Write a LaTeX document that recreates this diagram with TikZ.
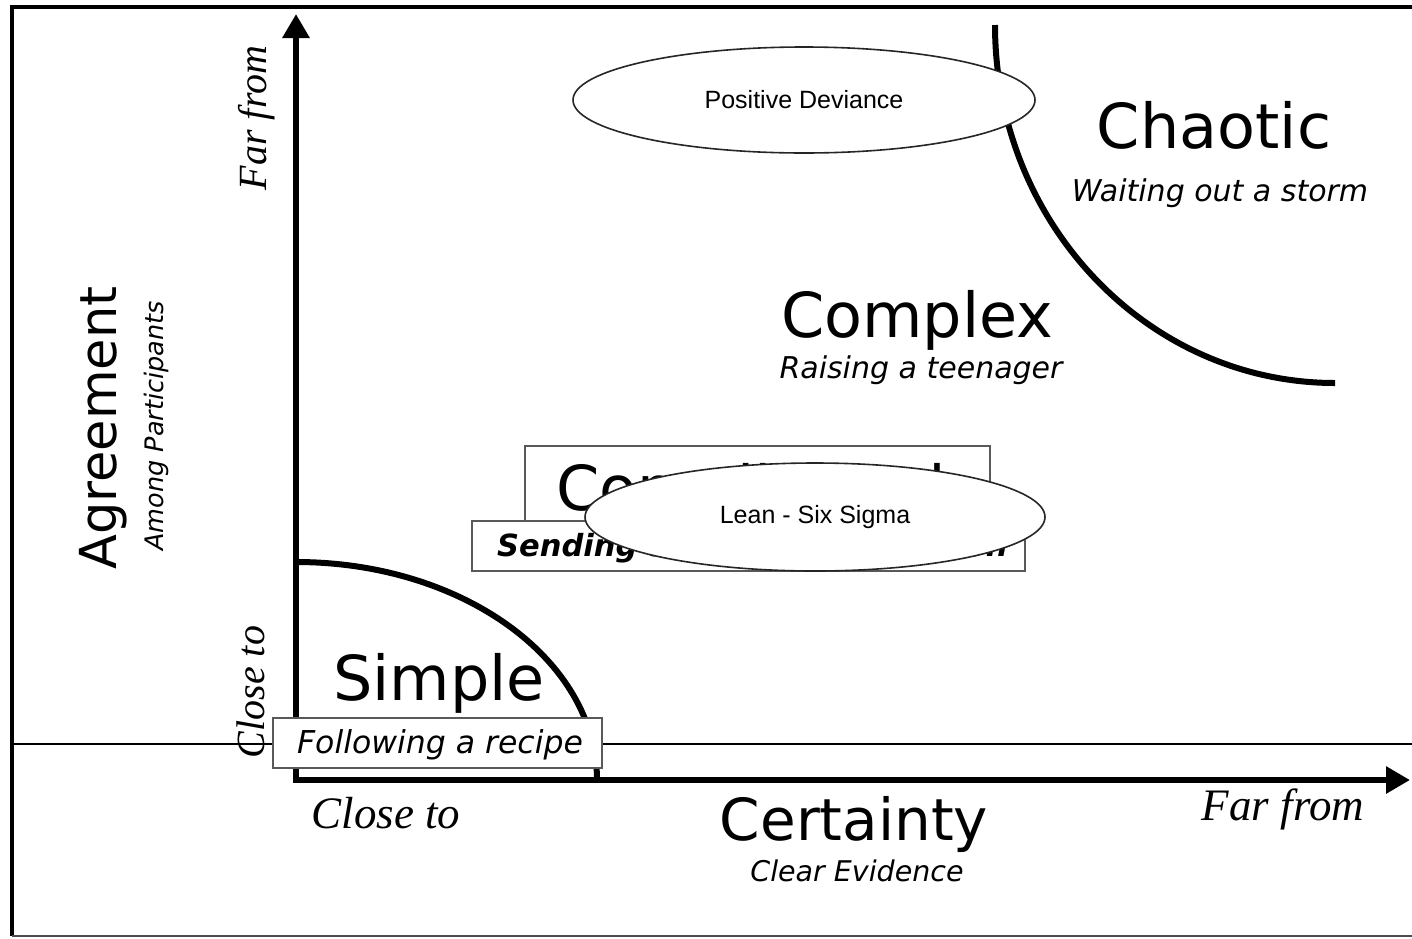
\documentclass[tikz,border=0pt]{standalone}
\usepackage{fontspec}
\usetikzlibrary{shapes.geometric,arrows.meta}
\newfontfamily\comicf{DejaVu Sans}
\newfontfamily\serf{Liberation Serif}
\newfontfamily\arialf{Liberation Sans}
\begin{document}
\begin{tikzpicture}[x=1pt,y=-1pt,
  axisline/.style={line width=6pt, line join=miter,
    {Triangle[width=26pt,length=24pt]}-{Triangle[width=26pt,length=24pt]}},
  curve/.style={line width=6pt},
  cbox/.style={draw=black!65, line width=1.8pt, fill=white, inner sep=0pt},
  oval/.style={ellipse, draw=black!85, line width=1.6pt, fill=white, inner sep=0pt,
    font=\arialf\fontsize{25}{27}\selectfont},
  big/.style={font=\comicf\fontsize{62}{62}\selectfont, inner sep=0pt},
  sub/.style={font=\comicf\itshape\fontsize{30}{32}\selectfont, inner sep=0pt},
  ser/.style={font=\serf\itshape\fontsize{45}{47}\selectfont, inner sep=0pt},
  serv/.style={font=\serf\itshape\fontsize{40}{42}\selectfont, inner sep=0pt, rotate=90}
]
\useasboundingbox (0,0) rectangle (1412,938);
% frame
\draw[line width=4pt] (1412,7) -- (12,7) -- (12,936);
\draw[line width=2pt, black!70] (12,936) -- (1412,936);
% thin horizontal line
\coordinate (hl) at (12,744);
\coordinate (hr) at (1412,744);
\draw[line width=1.5pt] (hl) -- (hr);
% axes
\coordinate (o) at (296,780);
\coordinate (ytip) at (296,14);
\coordinate (xtip) at (1410,780);
\draw[axisline] (ytip) -- (o) -- (xtip);
% simple boundary
\coordinate (s1) at (296,562);
\draw[curve] (s1) arc[start angle=-90, end angle=0, x radius=301, y radius=218];
% chaotic boundary
\coordinate (c1) at (995,25);
\draw[curve] (c1) arc[start angle=180, end angle=90, x radius=340, y radius=358];
% complicated boxes
\node[cbox, minimum width=465pt, minimum height=76pt] (cbox1) at (757.5,484) {};
\node[big, anchor=base west] (complicated) at (556,510) {Complicated};
\node[cbox, minimum width=553pt, minimum height=50pt] (cbox2) at (748.5,546) {};
\node[inner sep=0pt, font=\comicf\bfseries\itshape\fontsize{30.5}{32}\selectfont, anchor=base west] (sending) at (497,556) {Sending a rocket to the moon};
% ovals
\node[oval, minimum width=460pt, minimum height=108pt] (lean) at (815,517) {Lean - Six Sigma};
\node[oval, minimum width=462pt, minimum height=106pt] (pd) at (804,100) {Positive Deviance};
% simple
\node[big, anchor=base] (simple) at (439,700) {Simple};
\node[cbox, minimum width=329pt, minimum height=50pt] (fbox) at (437.5,743) {};
\node[sub, font=\comicf\itshape\fontsize{31.5}{33}\selectfont, anchor=base] (recipe) at (440,753) {Following a recipe};
% chaotic
\node[big, anchor=base] (chaotic) at (1214,148) {Chaotic};
\node[sub, anchor=base] (storm) at (1220,201) {Waiting out a storm};
% complex
\node[big, anchor=base] (complex) at (917,337) {Complex};
\node[sub, anchor=base] (teen) at (921,378) {Raising a teenager};
% x axis labels
\node[inner sep=0pt, font=\comicf\fontsize{58}{58}\selectfont, anchor=base] (certainty) at (854,840) {Certainty};
\node[inner sep=0pt, font=\comicf\itshape\fontsize{28.5}{30}\selectfont, anchor=base] (evidence) at (857,881) {Clear Evidence};
\node[ser, anchor=base] (xclose) at (386,828) {Close to};
\node[ser, anchor=base] (xfar) at (1283,820) {Far from};
% y axis labels
\node[serv, anchor=base] (yfar) at (266,118) {Far from};
\node[serv, anchor=base] (yclose) at (264,692) {Close to};
\node[inner sep=0pt, font=\comicf\fontsize{51}{51}\selectfont, rotate=90, anchor=base] (agree) at (116,428) {Agreement};
\node[inner sep=0pt, font=\comicf\itshape\fontsize{25.5}{27}\selectfont, rotate=90, anchor=base] (among) at (163,426) {Among Participants};
\end{tikzpicture}
\end{document}
